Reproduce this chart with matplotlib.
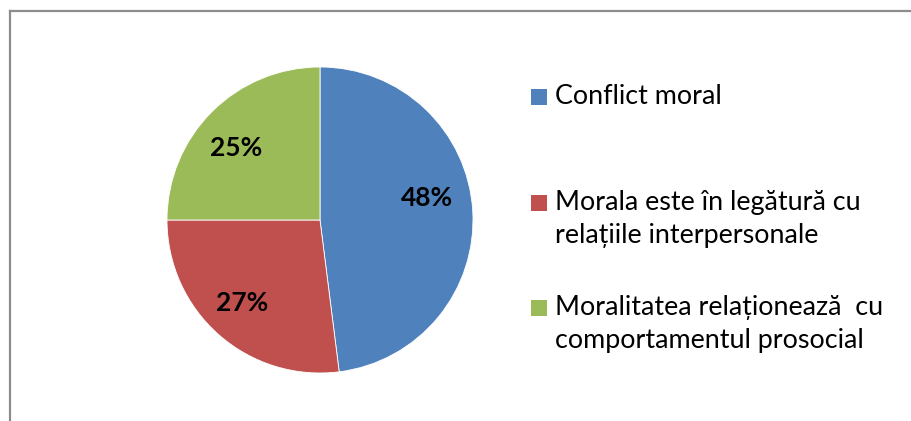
import matplotlib
matplotlib.use("Agg")
import matplotlib.pyplot as plt
from matplotlib.lines import Line2D
from matplotlib.patches import Rectangle

plt.rcParams['font.family'] = ['Lato', 'DejaVu Sans']

categories = ["Conflict moral",
              "Morala este în legătură cu\nrelațiile interpersonale",
              "Moralitatea relaționează  cu\ncomportamentul prosocial"]
values = [48, 27, 25]
colors = ["#4F81BD", "#C0504D", "#9BBB59"]

W, H = 911, 421
fig = plt.figure(figsize=(W / 100, H / 100), dpi=100)

# pie centre (320, 220) px, radius 153 px
cx, cy, r = 320, 220, 153
ax = fig.add_axes([(cx - r) / W, (H - cy - r) / H, 2 * r / W, 2 * r / H])
wedges, texts, pcts = ax.pie(values, colors=colors, startangle=90, counterclock=False,
                             autopct="%d%%", pctdistance=0.72,
                             wedgeprops=dict(edgecolor="white", linewidth=0.6),
                             textprops=dict(fontsize=19, fontweight="bold", color="black"))
# Excel puts the big slice's label a bit higher
nudge = [(-0.02, 0.10), (-0.03, 0.0), (-0.04, -0.04)]
for t, (dx, dy) in zip(pcts, nudge):
    x, y = t.get_position()
    t.set_position((x + dx, y + dy))
ax.set_xlim(-1, 1)
ax.set_ylim(-1, 1)
ax.set_aspect("equal")
ax.axis("off")

# legend drawn by hand so the marker sits on the first line
entry_y = [97, 203, 308]
for lbl, col, y in zip(categories, colors, entry_y):
    fig.patches.append(Rectangle((531 / W, 1 - (y + 8) / H), 16 / W, 16 / H,
                                 transform=fig.transFigure, facecolor=col,
                                 edgecolor="none"))
    fig.text(555 / W, 1 - (y - 13) / H, lbl, fontsize=19.4, va="top", ha="left",
             linespacing=1.42)

# chart border (only top and left visible in the crop)
fig.lines.append(Line2D([10 / W, 1], [1 - 11 / H, 1 - 11 / H],
                        transform=fig.transFigure, color="#8c8c8c", lw=1.6))
fig.lines.append(Line2D([10 / W, 10 / W], [0, 1 - 11 / H],
                        transform=fig.transFigure, color="#8c8c8c", lw=1.6))

fig.savefig("out.png", dpi=100)
